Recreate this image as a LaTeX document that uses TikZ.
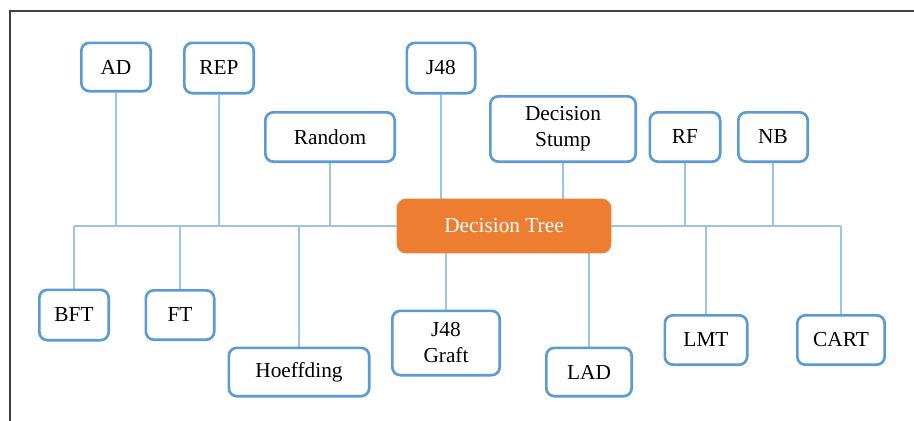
\documentclass[tikz,border=0pt]{standalone}
\usepackage{fontspec}
\setmainfont{Liberation Serif}
\newfontfamily\boxfont{Liberation Serif}
\usetikzlibrary{calc}
\usetikzlibrary{backgrounds}
\definecolor{boxblue}{RGB}{91,155,213}
\definecolor{linkblue}{RGB}{157,195,230}
\definecolor{treeorange}{RGB}{237,125,49}

\begin{document}
\begin{tikzpicture} [x=0.75pt, y=-0.75pt,
  algo/.style={draw=boxblue, line width=2pt, rounded corners=6pt, fill=white, align=center, inner sep=0pt, font=\boxfont\fontsize{16}{19.5}\selectfont},
  link/.style={linkblue, line width=1.4pt}]
\useasboundingbox (0,0) rectangle (914,421);
\draw[black!75, line width=1.1pt] (914,11) -- (10,11) -- (10,421);
\node[fill=treeorange, rounded corners=7pt, text=white, inner sep=0pt, minimum width=161pt, minimum height=41pt, font=\boxfont\fontsize{16}{19.5}\selectfont] (DT) at (504,226) {Decision Tree};
\foreach \n/\x/\y/\w/\h/\txt in {AD/116/67/72/51/AD, REP/219/68/72/53/REP, Random/330/137/132/52/Random, J48/441/68/71/53/J48, Stump/563/129/148/68/{Decision\\Stump}, RF/685/137/73/52/RF, NB/773/137/72/52/NB, BFT/74/315/72/53/BFT, FT/180/315/71/52/FT, Hoeff/299/372/143/51/Hoeffding, Graft/446/343/110/67/{J48\\Graft}, LAD/589/372/88/51/LAD, LMT/706/340/85/52/LMT, CART/841/340/90/52/CART}
 \node[algo, minimum width={\w*0.75-2}, minimum height={\h*0.75-2}] (\n) at (\x,\y) {\txt};
\begin{scope}[on background layer]
\draw[link] (BFT |- DT) -- (CART |- DT);
\foreach \n in {AD,REP,Random,J48,Stump,RF,NB,BFT,FT,Hoeff,Graft,LAD,LMT,CART}
 \draw[link] (\n) -- (\n |- DT);
\end{scope}
\end{tikzpicture}
\end{document}
